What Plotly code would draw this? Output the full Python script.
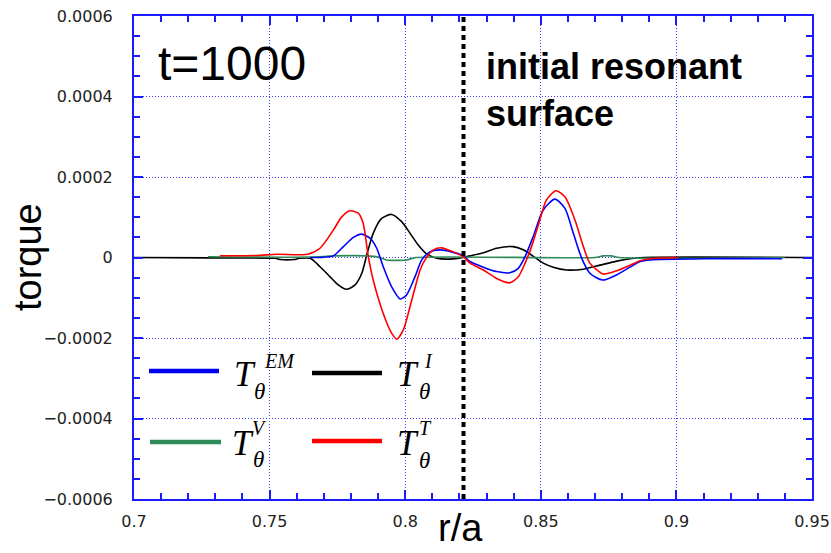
import plotly.graph_objects as go

# ---------------- data ----------------
r_em = [0.765, 0.7686, 0.7735, 0.7772, 0.7809, 0.784, 0.787, 0.7895, 0.7919, 0.795,
        0.7981, 0.8005, 0.8036, 0.8061, 0.8091, 0.8128, 0.8171, 0.8214, 0.8239, 0.8288,
        0.8337, 0.8386, 0.8417, 0.8442, 0.8472, 0.8509, 0.8552, 0.8589, 0.862, 0.8651,
        0.8681, 0.8728, 0.878, 0.8829, 0.8866, 0.8903, 0.91, 0.939]
t_em = [0e-6, 0e-6, 4e-6, 27e-6, 50e-6, 58e-6, 48e-6, 23e-6, -23e-6, -73e-6,
        -103e-6, -93e-6, -48e-6, -6e-6, 14e-6, 19e-6, 14e-6, 4e-6, -10e-6, -24e-6,
        -35e-6, -38e-6, -27e-6, 2e-6, 52e-6, 118e-6, 145e-6, 122e-6, 60e-6, -2e-6,
        -39e-6, -56e-6, -43e-6, -24e-6, -10e-6, -6e-6, -3e-6, -3e-6]

r_i = [0.7, 0.728, 0.752, 0.754, 0.759, 0.761, 0.765, 0.7686, 0.7723, 0.7753,
       0.7784, 0.7815, 0.784, 0.7858, 0.7882, 0.7913, 0.795, 0.7987, 0.8018, 0.8048,
       0.8079, 0.8116, 0.8165, 0.8214, 0.8239, 0.8288, 0.8337, 0.8398, 0.8435, 0.8466,
       0.8509, 0.8546, 0.8595, 0.8657, 0.8718, 0.878, 0.8829, 0.8878, 0.95]
t_i = [0e-6, -1e-6, -2e-6, -5e-6, -5e-6, -2e-6, -2e-6, -23e-6, -48e-6, -68e-6,
       -79e-6, -68e-6, -39e-6, 6e-6, 60e-6, 97e-6, 107e-6, 89e-6, 60e-6, 31e-6,
       9e-6, -2e-6, -4e-6, 0e-6, 4e-6, 12e-6, 23e-6, 27e-6, 19e-6, 6e-6,
       -14e-6, -24e-6, -31e-6, -29e-6, -19e-6, -9e-6, -3e-6, 0e-6, 0e-6]

r_v = [0.7273, 0.765, 0.7735, 0.7858, 0.79, 0.793, 0.8005, 0.804, 0.87, 0.873, 0.876, 0.879, 0.94]
t_v = [2e-6, 1e-6, 4e-6, 4e-6, 1e-6, -6e-6, -6e-6, 0e-6, 0e-6, 4e-6, 4e-6, 0e-6, 0e-6]

r_t = [0.7317, 0.745, 0.753, 0.764, 0.7686, 0.7735, 0.7766, 0.7797, 0.7827, 0.7845,
       0.7864, 0.7882, 0.7919, 0.795, 0.7969, 0.7993, 0.8024, 0.8055, 0.8073, 0.8104,
       0.8134, 0.8177, 0.8214, 0.8239, 0.8288, 0.8337, 0.8386, 0.8417, 0.8442, 0.8466,
       0.8491, 0.8521, 0.8556, 0.8589, 0.8626, 0.8657, 0.8681, 0.873, 0.878, 0.8829,
       0.8866, 0.8903, 0.9006]
t_t = [4.5e-6, 5e-6, 8e-6, 8e-6, 23e-6, 68e-6, 101e-6, 116e-6, 110e-6, 85e-6,
       2e-6, -56e-6, -139e-6, -188e-6, -203e-6, -180e-6, -106e-6, -31e-6, -6e-6, 19e-6,
       24e-6, 14e-6, 2e-6, -14e-6, -31e-6, -52e-6, -63e-6, -48e-6, -14e-6, 27e-6,
       81e-6, 143e-6, 166e-6, 151e-6, 93e-6, 27e-6, -14e-6, -41e-6, -33e-6, -19e-6,
       -8e-6, -3e-6, 0e-6]

resonant_r = 0.8215

x_tick_vals = [0.7, 0.75, 0.8, 0.85, 0.9, 0.95]
x_tick_text = ["0.7", "0.75", "0.8", "0.85", "0.9", "0.95"]
y_tick_vals = [-0.0006, -0.0004, -0.0002, 0, 0.0002, 0.0004, 0.0006]
y_tick_text = ["\u22120.0006", "\u22120.0004", "\u22120.0002", "0", "0.0002", "0.0004", "0.0006"]

# ---------------- layout geometry helpers ----------------
W, H = 831, 553
L, R, T, B = 134, 812, 16, 499


def px(x):
    return (x - L) / (R - L)


def py(y):
    return (B - y) / (B - T)


AX = "#1a1aff"
GRID = "#3c3cff"

fig = go.Figure()

# white boxes hiding gridlines behind texts (between grid and traces)
for (x0, y0, x1, y1) in [(134, 16, 400, 99), (467, 16, 782, 145),
                         (140, 345, 440, 398), (140, 421, 440, 464)]:
    fig.add_shape(type="rect", xref="paper", yref="paper",
                  x0=px(x0), x1=px(x1), y0=py(y1), y1=py(y0),
                  fillcolor="white", line_width=0, layer="between")

series = [
    (r_i, t_i, "black", "T_I"),
    (r_v, t_v, "#2e8b57", "T_V"),
    (r_em, t_em, "#0000ff", "T_EM"),
    (r_t, t_t, "#ff0000", "T_T"),
]
for xs, ys, col, name in series:
    fig.add_trace(go.Scatter(x=xs, y=ys, mode="lines", name=name,
                             line=dict(color=col, width=1.6, shape="spline", smoothing=0.7),
                             showlegend=False, hoverinfo="skip"))

# resonant surface dotted line
fig.add_shape(type="line", xref="x", yref="y", x0=resonant_r, x1=resonant_r,
              y0=-0.0006, y1=0.0006, line=dict(color="black", width=4, dash="5px,4px"))

# ---------------- custom legend ----------------
legend_items = [
    ("#0000ee", 149, 219, 371, 232, 374, "EM", 262, 361, 252, 391),
    ("black", 312, 382, 373, 395, 374, "I", 422, 361, 417, 391),
    ("#2e8b57", 150, 221, 442, 230, 443, "V", 250, 428, 251, 459),
    ("#ff0000", 312, 382, 441, 395, 443, "T", 417, 428, 417, 460),
]
serif = "Liberation Serif"
for col, lx0, lx1, ly, tx, ty, sup, sx, sy, thx, thy in legend_items:
    fig.add_shape(type="line", xref="paper", yref="paper",
                  x0=px(lx0), x1=px(lx1), y0=py(ly), y1=py(ly),
                  line=dict(color=col, width=4.5))
    fig.add_annotation(xref="paper", yref="paper", x=px(tx), y=py(ty), xanchor="left",
                       yanchor="middle", text="<i>T</i>", showarrow=False,
                       font=dict(family=serif, size=35, color="black"))
    fig.add_annotation(xref="paper", yref="paper", x=px(sx), y=py(sy), xanchor="left",
                       yanchor="middle", text="<i>" + sup + "</i>", showarrow=False,
                       font=dict(family=serif, size=20, color="black"))
    fig.add_annotation(xref="paper", yref="paper", x=px(thx), y=py(thy), xanchor="left",
                       yanchor="middle", text="<i>\u03b8</i>", showarrow=False,
                       font=dict(family=serif, size=23, color="black"))

# ---------------- texts ----------------
fig.add_annotation(xref="paper", yref="paper", x=px(156), y=py(63), xanchor="left",
                   yanchor="middle", text="t=1000", showarrow=False,
                   font=dict(family="Liberation Sans", size=48, color="black"))
fig.add_annotation(xref="paper", yref="paper", x=px(484), y=py(90), xanchor="left",
                   yanchor="middle", align="left",
                   text="<b>initial resonant<br>surface</b>", showarrow=False,
                   font=dict(family="Liberation Sans", size=36, color="black"))
fig.add_annotation(xref="paper", yref="paper", x=px(28), y=py(257), xanchor="center",
                   yanchor="middle", text="torque", textangle=-90, showarrow=False,
                   font=dict(family="Liberation Sans", size=38, color="black"))
fig.add_annotation(xref="paper", yref="paper", x=px(460), y=py(528), xanchor="center",
                   yanchor="middle", text="r/a", showarrow=False,
                   font=dict(family="Liberation Sans", size=38, color="black"))

axis_common = dict(showline=True, linecolor=AX, linewidth=2, mirror="allticks",
                   ticks="inside", ticklen=9, tickwidth=2, tickcolor=AX,
                   showgrid=True, gridcolor=GRID, gridwidth=1, griddash="1px,2px",
                   zeroline=False, automargin=False,
                   tickfont=dict(family="DejaVu Sans", size=16, color="#222222"))

fig.update_xaxes(range=[0.7, 0.95], tickmode="array", tickvals=x_tick_vals,
                 ticktext=x_tick_text, ticklabelstandoff=7,
                 minor=dict(tickmode="linear", tick0=0.7, dtick=0.01, ticks="inside",
                            ticklen=6, tickwidth=2, tickcolor=AX, showgrid=False),
                 **axis_common)
fig.update_yaxes(range=[-0.0006, 0.0006], tickmode="array", tickvals=y_tick_vals,
                 ticktext=y_tick_text, ticklabelstandoff=16,
                 minor=dict(tickmode="linear", tick0=-0.0006, dtick=0.00005, ticks="inside",
                            ticklen=6, tickwidth=2, tickcolor=AX, showgrid=False),
                 **axis_common)

fig.update_layout(width=W, height=H, margin=dict(l=L, r=W - R, t=T, b=H - B),
                  paper_bgcolor="white", plot_bgcolor="white")

fig.write_html("out.html")
